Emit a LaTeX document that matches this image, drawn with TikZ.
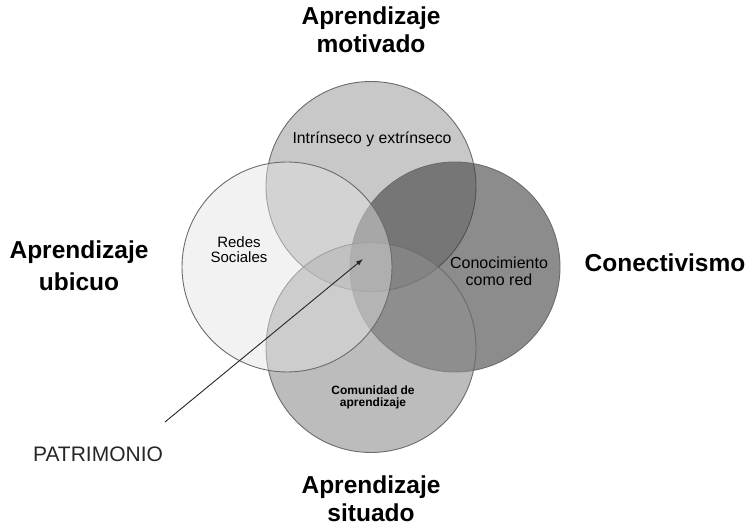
\documentclass[tikz,border=0pt]{standalone}
\usepackage{fontspec}
\setmainfont{Liberation Sans}
\usetikzlibrary{arrows.meta}

\definecolor{ctop}{gray}{0.64}
\definecolor{cright}{gray}{0.25}
\definecolor{cbot}{gray}{0.56}
\definecolor{cleft}{gray}{0.89}
\definecolor{rim}{gray}{0.42}

\tikzset{
    ring/.style={circle, draw=rim, line width=0.9pt, minimum size=210pt, inner sep=0pt},
    title/.style={font=\bfseries\fontsize{24.5}{28}\selectfont, align=center, inner sep=0pt},
    inner/.style={font=\fontsize{15}{15}\selectfont, align=center, inner sep=0pt},
    pointer/.style={-{Latex[length=7pt,width=5pt]}, line width=0.9pt, black!85}
}

\begin{document}
\begin{tikzpicture}[x=1pt,y=1pt]
    \pgfmathsetmacro{\cx}{371}
    \pgfmathsetmacro{\cy}{259}
    \pgfmathsetmacro{\dx}{84}
    \pgfmathsetmacro{\dy}{80.5}
    \useasboundingbox (0,0) rectangle (746,526);
    % the four circles, back to front
    \foreach \name/\xo/\yo/\col/\op in {top/0/1/ctop/0.6, right/1/0/cright/0.6, bottom/0/-1/cbot/0.6, left/-1/0/cleft/0.45} {
        \node[ring, fill=\col, fill opacity=\op] (\name) at ({\cx+\xo*\dx},{\cy+\yo*\dy}) {};
    }
    % texts inside (base = last line)
    \node[inner, anchor=base, font=\fontsize{15.8}{16}\selectfont] (motiv) at (372,382) {Intrínseco y extrínseco};
    \node[inner, anchor=base] (redes) at (239,263) {Redes\\Sociales};
    \node[inner, anchor=base, font=\fontsize{16}{17}\selectfont] (red) at (499,240) {Conocimiento\\como red};
    \node[inner, anchor=base, font=\bfseries\fontsize{12}{12.5}\selectfont] (comu) at (373,119) {Comunidad de\\aprendizaje};
    % outer titles
    \node[title, anchor=base] (tmotiv) at (371,473) {Aprendizaje\\motivado};
    \node[title, anchor=base, font=\bfseries\fontsize{24.5}{32}\selectfont] (tubic) at (79,235) {Aprendizaje\\ubicuo};
    \node[title, anchor=base] (tconec) at (665,254) {Conectivismo};
    \node[title, anchor=base] (tsitu) at (371,4) {Aprendizaje\\situado};
    % patrimonio
    \node[font=\fontsize{21}{24}\selectfont, text=black!85, anchor=base, inner sep=0pt] (patri) at (98,64) {PATRIMONIO};
    \coordinate (tail) at (165,104);
    \coordinate (tip) at (363,267);
    \draw[pointer] (tail) -- (tip);
\end{tikzpicture}
\end{document}
